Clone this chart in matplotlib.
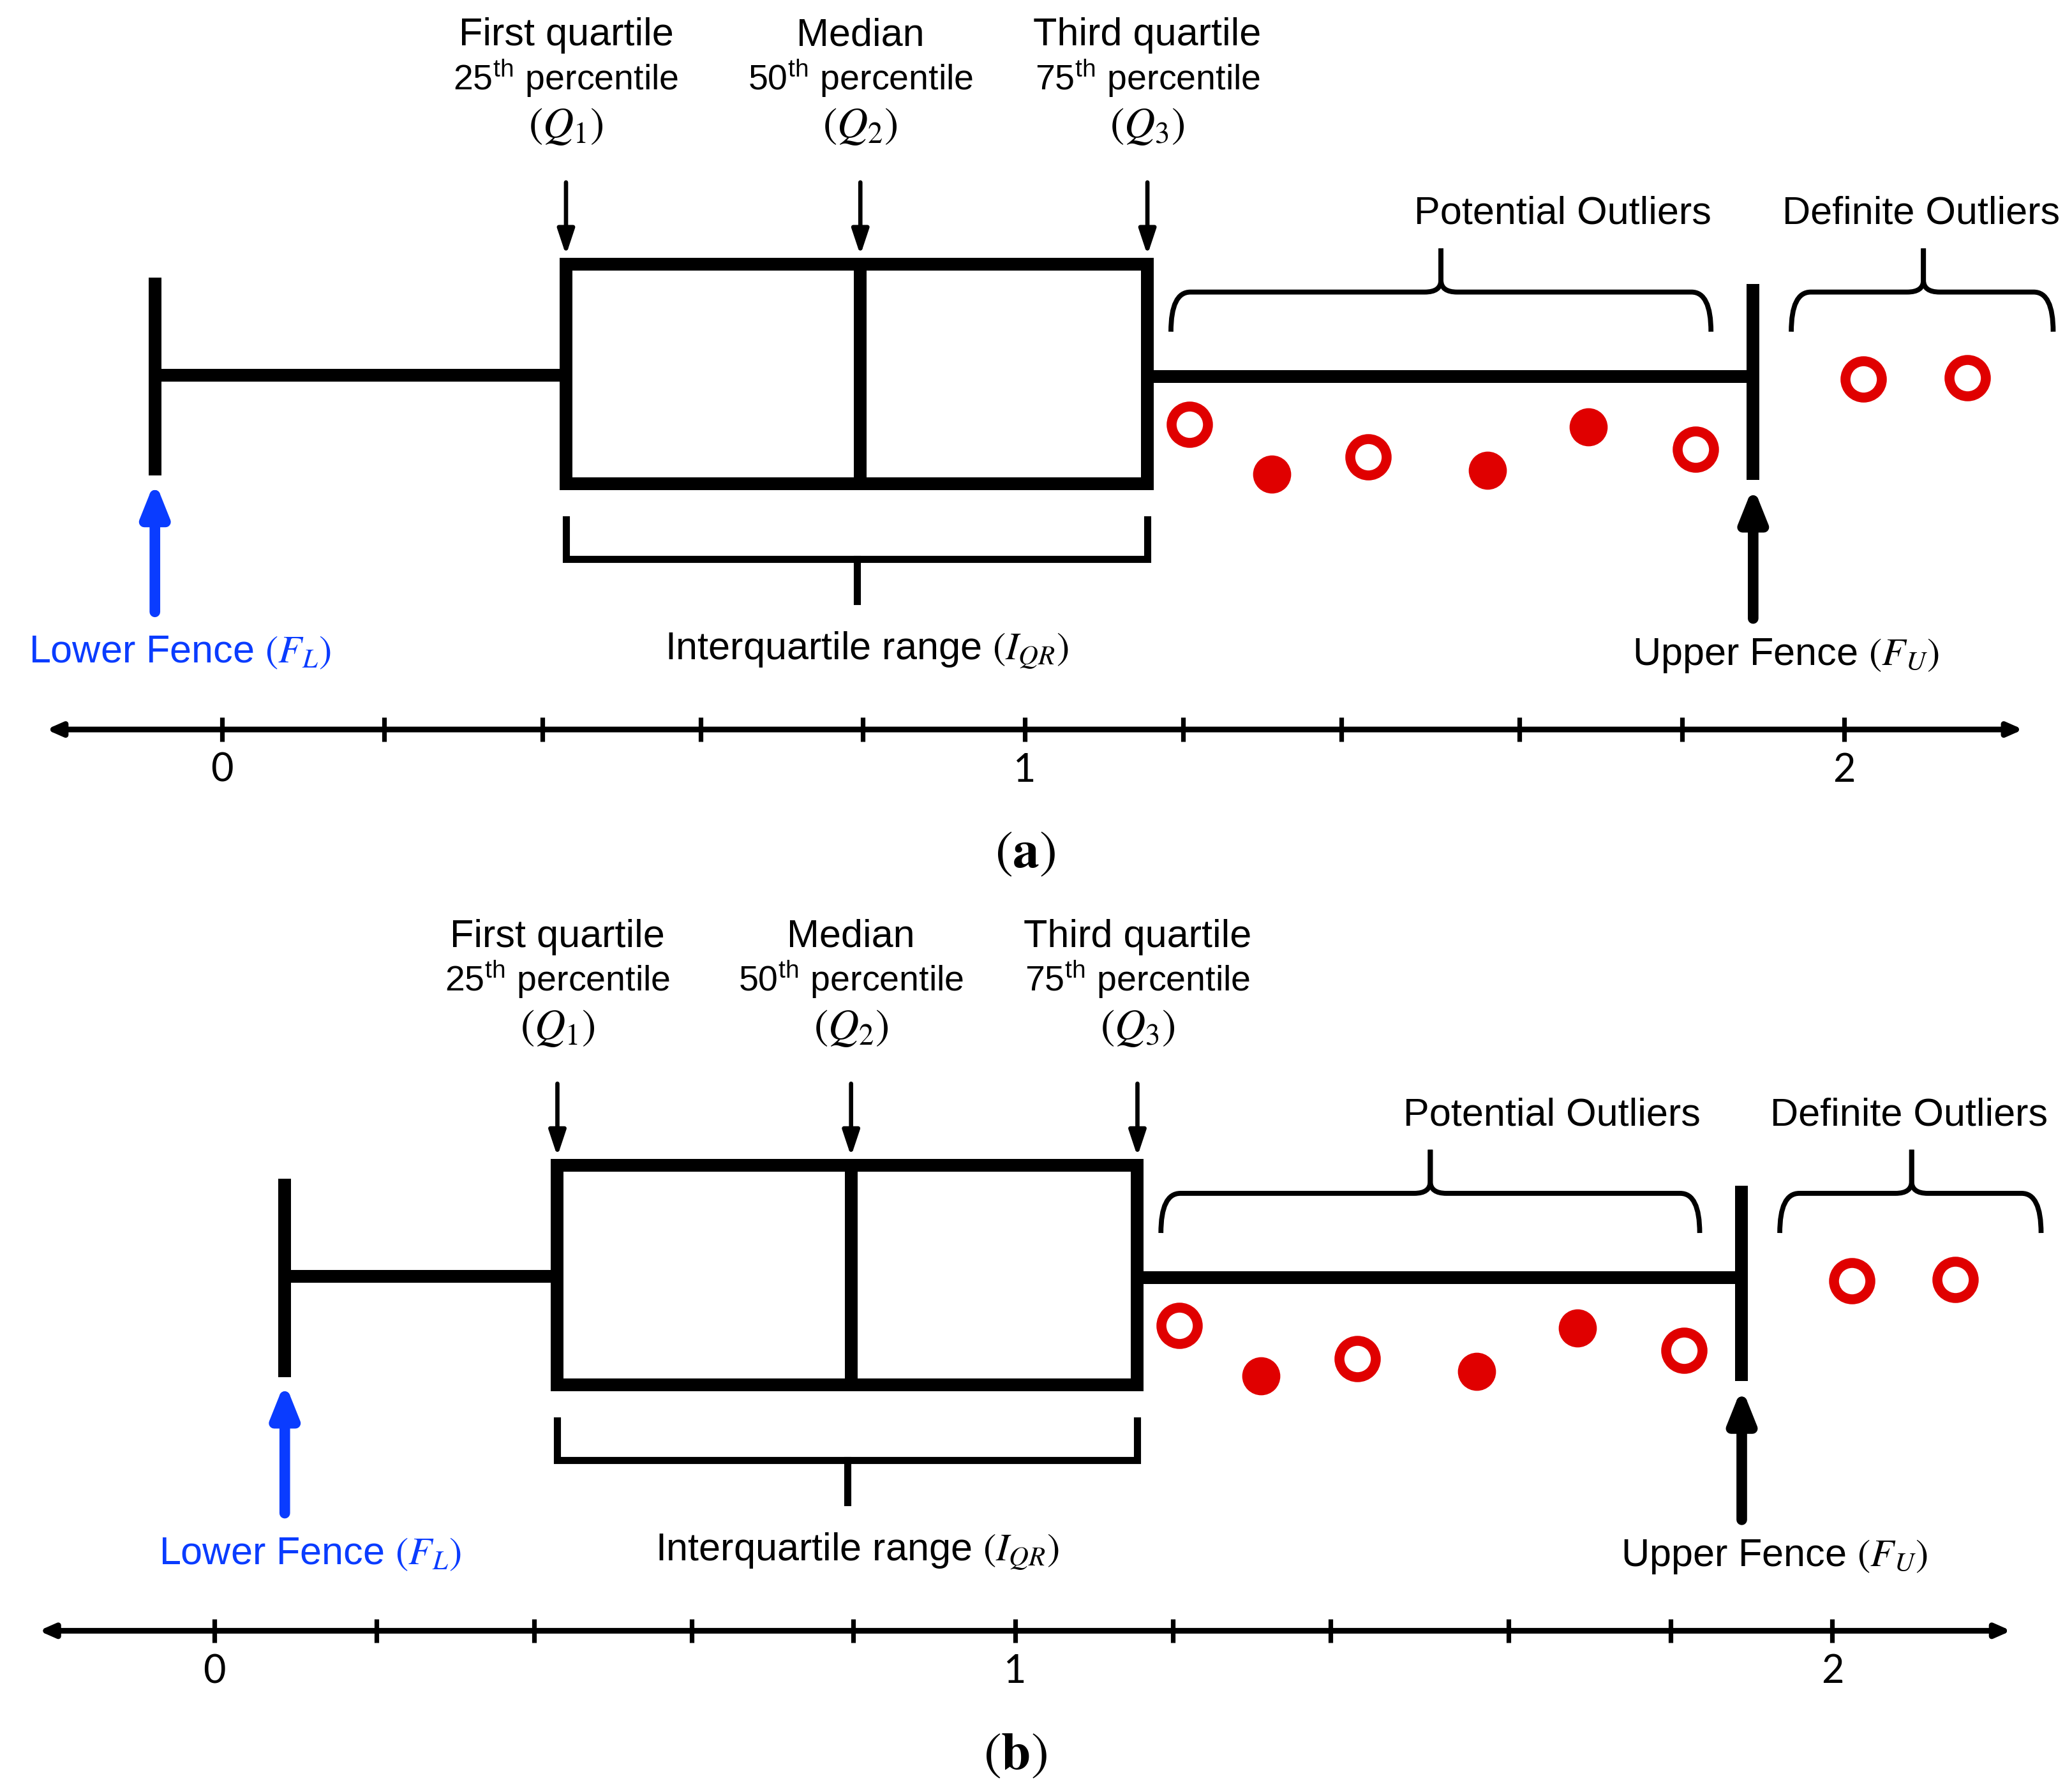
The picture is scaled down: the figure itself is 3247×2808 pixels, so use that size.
import matplotlib.pyplot as plt
from matplotlib.path import Path
from matplotlib.patches import PathPatch, Rectangle

plt.rcParams['font.family'] = ['Liberation Sans', 'DejaVu Sans']
plt.rcParams['mathtext.fontset'] = 'custom'
plt.rcParams['mathtext.rm'] = 'STIXGeneral'
plt.rcParams['mathtext.it'] = 'STIXGeneral:italic'
plt.rcParams['mathtext.bf'] = 'STIXGeneral:bold'
plt.rcParams['mathtext.sf'] = 'Liberation Sans'

# number-line values
panels = ['a', 'b']
lower_fence = [-0.083, 0.087]
x_view = [(-0.274, 2.282), (-0.265, 2.297)]
q1, q2, q3 = 0.424, 0.787, 1.141
upper_fence = 1.888
open_x = [1.193, 1.413, 1.817, 2.024, 2.152]
open_y = [321, 346, 340, 287, 286]
filled_x = [1.294, 1.560, 1.685]
filled_y = [359, 356, 323]
tick_pos = [0, 0.2, 0.395, 0.59, 0.79, 0.99, 1.185, 1.38, 1.6, 1.8, 2.0]
tick_lab = {0: '0', 5: '1', 10: '2'}

q_labels = [('First quartile', '25$^{\\mathsf{th}}$ percentile', '$(Q_1)$'),
            ('Median', '50$^{\\mathsf{th}}$ percentile', '$(Q_2)$'),
            ('Third quartile', '75$^{\\mathsf{th}}$ percentile', '$(Q_3)$')]

RED = '#E00000'
BLUE = '#0A3CFF'
FS = 22


def brace(ax, x0, x1, xm, y_end=251, y_line=221, y_peak=188, r=0.024, rc=0.02):
    for xe, s in ((x0, 1), (x1, -1)):
        verts = [(xe, y_end), (xe, y_line), (xe + s * r, y_line),
                 (xm - s * rc, y_line), (xm, y_line), (xm, y_line - 9), (xm, y_peak)]
        codes = [Path.MOVETO, Path.CURVE3, Path.CURVE3, Path.LINETO,
                 Path.CURVE3, Path.CURVE3, Path.LINETO]
        ax.add_patch(PathPatch(Path(verts, codes), fill=False, lw=2.8,
                               capstyle='butt', joinstyle='round'))


def arrow(ax, x, y_tail, y_tip, color, lw, style):
    ax.annotate('', xy=(x, y_tip), xytext=(x, y_tail),
                arrowprops=dict(arrowstyle=style, lw=lw, color=color,
                                shrinkA=0, shrinkB=0, mutation_scale=20))


def draw_panel(ax, lf, xl, tag):
    ax.set_xlim(*xl)
    ax.set_axis_off()

    # box, median and whiskers
    ax.add_patch(Rectangle((q1, 200), q3 - q1, 166, fill=False, lw=7.2,
                           joinstyle='miter'))
    ax.plot([q2, q2], [200, 366], color='k', lw=7.2, solid_capstyle='butt')
    ax.plot([lf, q1], [284, 284], color='k', lw=7.2, solid_capstyle='butt')
    ax.plot([q3, upper_fence], [285, 285], color='k', lw=7.2, solid_capstyle='butt')
    ax.plot([lf, lf], [210, 360], color='k', lw=7.2, solid_capstyle='butt')
    ax.plot([upper_fence, upper_fence], [215, 363], color='k', lw=7.2,
            solid_capstyle='butt')

    # quartile arrows and labels
    for q, (l1, l2, l3) in zip([q1, q2, q3], q_labels):
        arrow(ax, q, 138, 193, 'k', 2.4, '-|>,head_length=0.6,head_width=0.2')
        ax.text(q, 27, l1, ha='center', va='center', fontsize=FS)
        ax.text(q, 59, l2, ha='center', va='center', fontsize=FS - 2)
        ax.text(q, 96, l3, ha='center', va='center', fontsize=FS + 2)

    # fences
    arrow(ax, lf, 463, 364, BLUE, 6, '-|>,head_length=0.75,head_width=0.3')
    ax.text(lf + 0.031, 494, 'Lower Fence $(F_L)$', ha='center', va='center',
            fontsize=FS, color=BLUE)
    arrow(ax, upper_fence, 468, 368, 'k', 6, '-|>,head_length=0.75,head_width=0.3')
    ax.text(upper_fence + 0.04, 496, 'Upper Fence $(F_U)$', ha='center',
            va='center', fontsize=FS)

    # IQR bracket
    ax.plot([q1, q1, q3, q3], [393, 423, 423, 393], color='k', lw=4,
            solid_joinstyle='miter')
    ax.plot([(q1 + q3) / 2, (q1 + q3) / 2], [423, 455], color='k', lw=4)
    ax.text(0.795, 492, 'Interquartile range $(I_{QR})$', ha='center',
            va='center', fontsize=FS)

    # outlier braces
    brace(ax, 1.170, 1.836, 1.503)
    ax.text(1.653, 162, 'Potential Outliers', ha='center', va='center', fontsize=FS)
    brace(ax, 1.935, 2.258, 2.098)
    ax.text(2.095, 162, 'Definite Outliers', ha='center', va='center', fontsize=FS)

    # outliers
    ax.plot(open_x, open_y, 'o', ms=20.5, mfc='white', mec=RED, mew=5.6,
            linestyle='none')
    ax.plot(filled_x, filled_y, 'o', ms=21.5, mfc=RED, mec=RED, mew=0,
            linestyle='none')

    # number line
    ax.annotate('', xy=(2.221, 552), xytext=(-0.217, 552),
                arrowprops=dict(arrowstyle='<|-|>,head_length=0.5,head_width=0.22',
                                lw=3.2, color='k', shrinkA=0, shrinkB=0,
                                mutation_scale=14))
    ax.vlines(tick_pos, 543, 561, color='k', lw=2.6)
    for i, lab in tick_lab.items():
        ax.text(tick_pos[i], 583, lab, ha='center', va='center', fontsize=22,
                family='Lato')

    ax.text(0.99, 646, '$(\\mathbf{' + tag + '})$', ha='center', va='center',
            fontsize=30)


fig = plt.figure(figsize=(16.24, 14.04), dpi=200)
ax_a = fig.add_axes([0, 0.5, 1, 0.5])
ax_a.set_ylim(678, 0)
ax_b = fig.add_axes([0, 0, 1, 0.5])
ax_b.set_ylim(674, -4)

for ax, lf, xl, tag in zip([ax_a, ax_b], lower_fence, x_view, panels):
    draw_panel(ax, lf, xl, tag)

fig.savefig('out.png', dpi=200, facecolor='white')
